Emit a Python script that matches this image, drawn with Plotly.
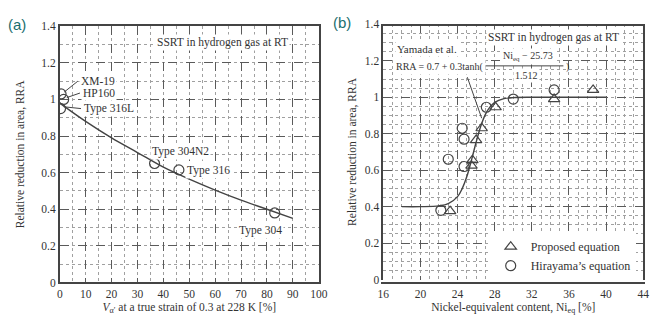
import plotly.graph_objects as go

# ---------- data: panel (a) ----------
a_labels = ["XM-19", "HP160", "Type 316L", "Type 304N2", "Type 316", "Type 304"]
a_x = [0.5, 1.5, 0.3, 36.6, 46.0, 83.0]
a_y = [1.03, 1.00, 0.95, 0.65, 0.615, 0.38]
a_curve_x = [0, 10, 20, 30, 40, 50, 60, 70, 80, 90]
a_curve_y = [0.98, 0.88, 0.79, 0.71, 0.63, 0.565, 0.505, 0.45, 0.40, 0.35]

# ---------- data: panel (b) ----------
prop_x = [23.2, 25.5, 25.6, 26.0, 26.6, 28.1, 34.4, 38.6]
prop_y = [0.375, 0.625, 0.655, 0.765, 0.83, 0.945, 0.99, 1.04]
hira_x = [22.2, 23.0, 24.7, 24.7, 24.5, 27.1, 30.0, 34.4]
hira_y = [0.38, 0.66, 0.62, 0.77, 0.83, 0.945, 0.99, 1.04]
b_curve_x = [18, 20, 22, 23, 24, 24.5, 25, 25.5, 26, 26.5, 27, 27.5, 28, 29, 30, 32, 36, 40]
b_curve_y = [0.40, 0.40, 0.404, 0.416, 0.455, 0.499, 0.565, 0.655, 0.753, 0.841,
             0.906, 0.947, 0.972, 0.992, 0.998, 1.0, 1.0, 1.0]

a_xticks = [0, 10, 20, 30, 40, 50, 60, 70, 80, 90, 100]
b_xticks = [16, 20, 24, 28, 32, 36, 40, 44]
y_ticks = [0, 0.2, 0.4, 0.6, 0.8, 1.0, 1.2, 1.4]

SERIF = "Liberation Serif"
TXT = "#333333"
LINE = "#444444"

fig = go.Figure()

mk = dict(symbol="circle-open", size=10, color=LINE, line=dict(width=1.2, color=LINE))
fig.add_trace(go.Scatter(x=a_curve_x, y=a_curve_y, mode="lines", line=dict(color=LINE, width=1.4),
                         xaxis="x", yaxis="y", showlegend=False, line_shape="spline"))
fig.add_trace(go.Scatter(x=a_x, y=a_y, mode="markers", marker=mk, xaxis="x", yaxis="y",
                         showlegend=False))

fig.add_trace(go.Scatter(x=b_curve_x, y=b_curve_y, mode="lines", line=dict(color=LINE, width=1.4),
                         xaxis="x2", yaxis="y2", showlegend=False, line_shape="spline"))
fig.add_trace(go.Scatter(x=prop_x, y=prop_y, mode="markers", name="Proposed equation",
                         marker=dict(symbol="triangle-up-open", size=10, color=LINE,
                                     line=dict(width=1.2, color=LINE)),
                         xaxis="x2", yaxis="y2"))
fig.add_trace(go.Scatter(x=hira_x, y=hira_y, mode="markers", name="Hirayama’s equation",
                         marker=mk, xaxis="x2", yaxis="y2"))

def xax(rng, ticks, dom, minor, title):
    return dict(range=rng, tickvals=ticks, domain=dom, showline=True, linecolor=LINE, linewidth=1.5,
                mirror=True, showgrid=True, gridcolor="#5a5a5a", griddash="dash", gridwidth=1,
                minor=dict(dtick=minor, showgrid=True, gridcolor="#a0a0a0", griddash="dot", gridwidth=1),
                zeroline=False, ticks="", tickfont=dict(family=SERIF, size=11.5, color=TXT),
                title=dict(text=title, font=dict(family=SERIF, size=11.5, color=TXT), standoff=4))

def yax(dom, minor, anchor, standoff):
    return dict(range=[0, 1.4], tickvals=y_ticks, domain=dom, anchor=anchor, showline=True,
                linecolor=LINE, linewidth=1.5, mirror=True, showgrid=True, gridcolor="#5a5a5a",
                griddash="dash", gridwidth=1,
                minor=dict(dtick=minor, showgrid=True, gridcolor="#a0a0a0", griddash="dot", gridwidth=1),
                zeroline=False, ticks="", tickfont=dict(family=SERIF, size=11.5, color=TXT),
                title=dict(text="Relative reduction in area, RRA",
                           font=dict(family=SERIF, size=11.5, color=TXT), standoff=standoff))

fig.update_layout(
    width=663, height=327, margin=dict(l=0, r=0, t=0, b=0),
    paper_bgcolor="white", plot_bgcolor="white",
    xaxis=xax([0, 100], a_xticks, [55/663, 320/663], 5,
              "<i>V</i><sub>α′</sub> at a true strain of 0.3 at 228 K [%]"),
    yaxis=yax([40/327, 306/327], 0.1, "x", 14),
    xaxis2=xax([16, 44], b_xticks, [386/663, 652/663], 1,
               "Nickel-equivalent content, Ni<sub>eq</sub> [%]"),
    yaxis2=yax([43/327, 308/327], 0.05, "x2", 6),
    legend=dict(x=0.748, y=0.282, xanchor="left", yanchor="top", bgcolor="white",
                borderwidth=0, font=dict(family=SERIF, size=12, color=TXT),
                itemwidth=30, tracegroupgap=0),
    showlegend=True,
)

ann = []
def t(x, y, s, xref="x", yref="y", xanchor="left", size=11.5, **kw):
    ann.append(dict(x=x, y=y, text=s, xref=xref, yref=yref, xanchor=xanchor, yanchor="middle",
                    showarrow=False, font=dict(family=SERIF, size=size, color=TXT), **kw))

shapes = []
def seg(x0, y0, x1, y1, xref="x", yref="y"):
    shapes.append(dict(type="line", xref=xref, yref=yref, x0=x0, y0=y0, x1=x1, y1=y1,
                       line=dict(color=LINE, width=1)))

# panel (a) texts
t(63, 1.31, "SSRT in hydrogen gas at RT", xanchor="center", bgcolor="white")
lead = [(a_x[0], a_y[0], 7.0, 1.10), (a_x[1], a_y[1], 7.8, 1.035), (a_x[2], a_y[2], 8.2, 0.95)]
for (px, py, tx, ty), lab in zip(lead, a_labels[:3]):
    seg(px + 1.2, py + 0.01, tx, ty)
    t(tx + 0.3, ty, lab, bgcolor="white")
t(35.0, 0.715, a_labels[3], bgcolor="white")
t(48.3, 0.612, a_labels[4], bgcolor="white")
t(68.5, 0.285, a_labels[5], bgcolor="white")

# panel (b) texts
t(34.3, 1.326, "SSRT in hydrogen gas at RT", xref="x2", yref="y2", xanchor="center", bgcolor="white")
t(17.25, 1.262, "Yamada et al.", xref="x2", yref="y2", size=11, bgcolor="white")
t(17.2, 1.167, "RRA = 0.7 + 0.3tanh(", xref="x2", yref="y2", size=10, bgcolor="white")
t(31.6, 1.222, "Ni<sub>eq</sub> − 25.73", xref="x2", yref="y2", xanchor="center", size=10, bgcolor="white")
t(31.4, 1.118, "1.512", xref="x2", yref="y2", xanchor="center", size=10, bgcolor="white")
t(35.5, 1.167, ")", xref="x2", yref="y2", size=10)
seg(25.6, 1.172, 35.4, 1.172, "x2", "y2")
seg(25.05, 1.11, 26.6, 0.885, "x2", "y2")

# panel labels
ann.append(dict(x=0, y=306/327 + 0.005, xref="paper", yref="paper", xanchor="left", yanchor="middle",
                text="(a)", showarrow=False, font=dict(family="Liberation Sans", size=15, color="#1b6e6e")))
ann.append(dict(x=333/663, y=308/327 + 0.005, xref="paper", yref="paper", xanchor="left", yanchor="middle",
                text="(b)", showarrow=False, font=dict(family="Liberation Sans", size=15, color="#1b6e6e")))

fig.update_layout(annotations=ann, shapes=shapes)

fig.write_html("out.html")
